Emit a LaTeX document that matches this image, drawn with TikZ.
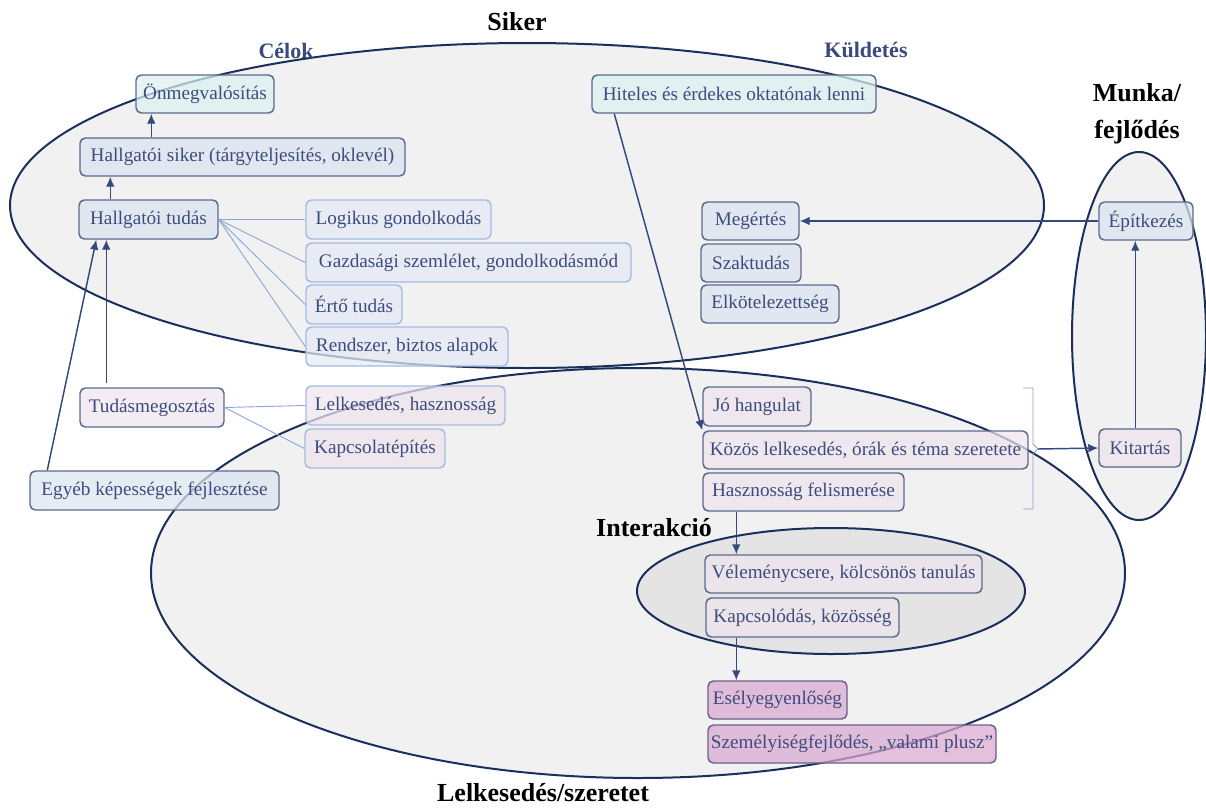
\documentclass[tikz,border=0pt]{standalone}
\usepackage{fontspec}
\setmainfont{Liberation Serif}
\usetikzlibrary{arrows.meta,calc}

\definecolor{ringline}{HTML}{1B2F5C}
\definecolor{ringfill}{HTML}{F1F1F1}
\definecolor{innerfill}{HTML}{E4E4E4}
\definecolor{boxline}{HTML}{5B6A8C}
\definecolor{lightline}{HTML}{A5BBE2}
\definecolor{bluefill}{HTML}{DCE4F0}
\definecolor{paleblue}{HTML}{E5EAF4}
\definecolor{tealfill}{HTML}{DCF0F0}
\definecolor{pinkfill}{HTML}{EEE4EE}
\definecolor{magfill}{HTML}{D9A8D0}
\definecolor{magline}{HTML}{6E5E8E}
\definecolor{boxtext}{HTML}{3D4C7D}
\definecolor{arrowcol}{HTML}{34497E}
\definecolor{linkcol}{HTML}{8DA8D8}
\definecolor{headblue}{HTML}{3A4A7E}
\definecolor{bracecol}{HTML}{8C9ABA}

\tikzset{
  ring/.style={draw=ringline, line width=1.5pt},
  card/.style={rectangle, rounded corners=4pt, inner sep=0pt, line width=1.1pt,
    draw=boxline, text=boxtext, fill opacity=0.72, text opacity=1,
    font=\rmfamily\fontsize{14.4}{16}\selectfont},
  cardblue/.style={card, fill=bluefill},
  cardpale/.style={card, fill=paleblue, draw=lightline},
  cardteal/.style={card, fill=tealfill},
  cardpink/.style={card, fill=pinkfill},
  cardpinklight/.style={card, fill=pinkfill, draw=lightline},
  cardmag/.style={card, fill=magfill, draw=magline},
  arr/.style={draw=arrowcol, line width=1.1pt, -{Latex[length=7.5pt,width=6.5pt]}},
  link/.style={draw=linkcol, line width=0.7pt},
  headline/.style={font=\rmfamily\bfseries\fontsize{19.5}{21}\selectfont, text=black},
  subhead/.style={font=\rmfamily\bfseries\fontsize{16.5}{18}\selectfont, text=headblue},
}

% box from corner (x1,y1) to corner (x2,y2) in pixel-like units
\newcommand{\cardbox}[7]{%
  \node[#1, minimum width={(#5-#3)*0.75pt}, minimum height={(#6-#4)*0.75pt}]
    (#2) at ({(#3+#5)/2},{(#4+#6)/2}) {#7};}

\begin{document}
\begin{tikzpicture}[x=0.75pt, y=-0.75pt]
\useasboundingbox (0,0) rectangle (1206,807);

% --- the four areas ---
\fill[ringfill] (527,205.5) ellipse [x radius=517, y radius=162.5];
\fill[ringfill] (638,573) ellipse [x radius=487, y radius=205];
\fill[ringfill] (1139,336) ellipse [x radius=67, y radius=184];
\fill[innerfill] (831,591) ellipse [x radius=194, y radius=63];
\draw[ring] (527,205.5) ellipse [x radius=517, y radius=162.5];
\draw[ring] (638,573) ellipse [x radius=487, y radius=205];
\draw[ring] (1139,336) ellipse [x radius=67, y radius=184];
\draw[ring] (831,591) ellipse [x radius=194, y radius=63];

% --- area titles ---
\node[headline] (tsiker) at (517,22) {Siker};
\node[subhead] (tcelok) at (286,51) {Célok};
\node[subhead] (tkuld) at (866,50) {Küldetés};
\node[headline, align=center, font=\rmfamily\bfseries\fontsize{19.5}{28}\selectfont] (tmunka) at (1137,114) {Munka/\\fejlődés};
\node[headline] (tinter) at (654,528) {Interakció};
\node[headline] (tlelk) at (543,793) {Lelkesedés/szeretet};

% --- goals ---
\cardbox{cardteal}{onmeg}{136}{75}{274}{113}{Önmegvalósítás}
\cardbox{cardblue}{hsiker}{80}{138}{405}{176}{Hallgatói siker (tárgyteljesítés, oklevél)}
\cardbox{cardblue}{htudas}{79}{200}{218}{239}{Hallgatói tudás}
\cardbox{cardpale}{logik}{306}{200}{491}{239}{Logikus gondolkodás}
\cardbox{cardpale}{gazd}{306}{243}{631}{282}{Gazdasági szemlélet, gondolkodásmód}
\cardbox{cardpale}{erto}{306}{285}{402}{324}{Értő tudás}
\cardbox{cardpale}{rendsz}{306}{327}{508}{366}{Rendszer, biztos alapok}
\cardbox{cardpink}{tudmeg}{80}{388}{224}{427}{Tudásmegosztás}
\cardbox{cardpinklight}{lelkh}{306}{386}{505}{425}{Lelkesedés, hasznosság}
\cardbox{cardpinklight}{kapcsep}{305}{429}{445}{468}{Kapcsolatépítés}
\cardbox{cardblue}{egyeb}{30}{471}{279}{510}{Egyéb képességek fejlesztése}

% --- mission ---
\cardbox{cardteal}{hiteles}{592}{75}{876}{113}{Hiteles és érdekes oktatónak lenni}
\cardbox{cardblue}{megert}{702}{202}{799}{240}{Megértés}
\cardbox{cardblue}{szakt}{701}{244}{801}{282}{Szaktudás}
\cardbox{cardblue}{elkot}{701}{285}{839}{323}{Elkötelezettség}

% --- enthusiasm ---
\cardbox{cardpink}{johang}{703}{387}{811}{426}{Jó hangulat}
\cardbox{cardpink}{kozos}{703}{431}{1028}{469}{Közös lelkesedés, órák és téma szeretete}
\cardbox{cardpink}{haszn}{703}{473}{904}{511}{Hasznosság felismerése}
\cardbox{cardpink}{velem}{705}{555}{982}{593}{Véleménycsere, kölcsönös tanulás}
\cardbox{cardpink}{kapcsol}{706}{598}{899}{637}{Kapcsolódás, közösség}
\cardbox{cardmag}{esely}{708}{681}{847}{719}{Esélyegyenlőség}
\cardbox{cardmag}{szemely}{708}{725}{996}{763}{Személyiségfejlődés, „valami plusz”}

% --- work / development ---
\cardbox{cardblue}{epitk}{1099}{202}{1193}{240}{Építkezés}
\cardbox{cardpink}{kitart}{1099}{429}{1181}{467}{Kitartás}

% --- bracket grouping the three enthusiasm items ---
\coordinate (brtip) at (1038,449);
\draw[bracecol, line width=0.7pt]
  (1023,388) -- (1033,388) -- (1033,444) -- (brtip) -- (1033,454) -- (1033,509) -- (1023,509);

% --- thin links ---
\foreach \t in {logik, gazd, erto, rendsz}
  \draw[link] (htudas.east) -- (\t.west);
\draw[link] (tudmeg.east) -- (lelkh.west);
\draw[link] (tudmeg.east) -- (kapcsep.west);

% --- arrows ---
\draw[arr] ($(hsiker.north west)+(72,0)$) -- ($(onmeg.south west)+(16,0)$);
\draw[arr] ($(htudas.north west)+(32,0)$) -- ($(hsiker.south west)+(31,0)$);
\draw[arr] ($(tudmeg.north west)+(27,-4)$) -- ($(htudas.south west)+(28,0)$);
\draw[arr] ($(egyeb.north west)+(18,0)$) -- ($(htudas.south west)+(18,0)$);
\draw[arr] ($(hiteles.south west)+(23,0)$) -- (kozos.north west);
\draw[arr] ($(haszn.south west)+(34,0)$) -- ($(velem.north west)+(32,0)$);
\draw[arr] ($(kapcsol.south west)+(31,0)$) -- ($(esely.north west)+(29,0)$);
\draw[arr] (brtip) -- (kitart.west);
\draw[arr] ($(kitart.north west)+(37,0)$) -- ($(epitk.south west)+(37,0)$);
\draw[arr] (epitk.west) -- (megert.east);
\end{tikzpicture}
\end{document}
